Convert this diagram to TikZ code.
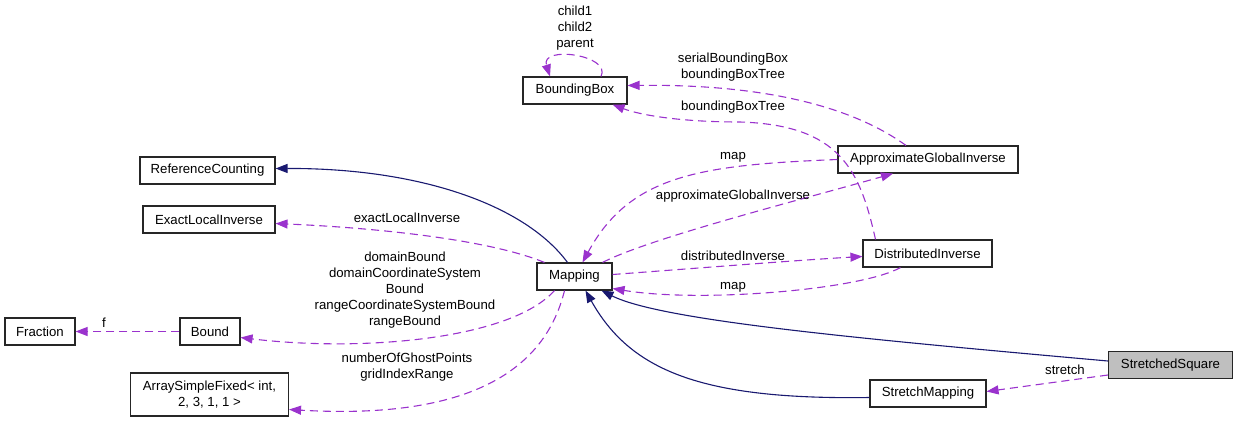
\documentclass[tikz,border=0pt]{standalone}
\usepackage{fontspec}
\setmainfont{Liberation Sans}
\usepackage{xcolor}
\usetikzlibrary{arrows.meta}

\definecolor{inhblue}{HTML}{191970}
\definecolor{useorchid}{HTML}{9A32CD}

\begin{document}
\begin{tikzpicture}[x=1pt,y=-1pt,
	cls/.style={draw=black!85, fill=white, line width=1.1pt, minimum height=27pt, inner sep=0pt, align=center, font=\fontsize{13.2}{16}\selectfont},
	inh/.style={color=inhblue, line width=1.1pt, -{Triangle[length=12pt,width=9pt]}},
	use/.style={color=useorchid, line width=1.1pt, dash pattern=on 8pt off 5pt, -{Triangle[length=12pt,width=9pt]}},
	lbl/.style={inner sep=0pt, align=center, font=\fontsize{13.2}{16}\selectfont}]

\useasboundingbox (0,0) rectangle (1237,421);

% classes
\node[cls, minimum width=104pt] (BoundingBox) at (575,90.5) {BoundingBox};
\node[cls, minimum width=180pt] (ApproxInverse) at (928,159.5) {ApproximateGlobalInverse};
\node[cls, minimum width=135pt] (RefCounting) at (207.5,170.5) {ReferenceCounting};
\node[cls, minimum width=132pt] (ExactInverse) at (209,219.5) {ExactLocalInverse};
\node[cls, minimum width=75pt] (Mapping) at (574.5,276.5) {Mapping};
\node[cls, minimum width=129pt] (DistInverse) at (927.5,253.5) {DistributedInverse};
\node[cls, minimum width=70pt] (Fraction) at (40,331.5) {Fraction};
\node[cls, minimum width=60pt] (Bound) at (210,331.5) {Bound};
\node[cls, minimum width=158pt, minimum height=43pt] (ArrayFixed) at (209.5,394.5) {ArraySimpleFixed\textless{} int,\\ 2, 3, 1, 1 \textgreater{}};
\node[cls, minimum width=124pt, fill=black!25] (Stretched) at (1170.5,365) {StretchedSquare};
\node[cls, minimum width=116pt] (StretchMap) at (928,393.5) {StretchMapping};

% inheritance
\draw[inh] ([xshift=-7pt]Mapping.north) .. controls (525,205) and (420,168) .. ([yshift=2pt]RefCounting.east);
\draw[inh] ([yshift=4pt]Stretched.west) .. controls (850,338) and (660,320) .. ([xshift=27pt]Mapping.south);
\draw[inh] ([yshift=-4pt]StretchMap.west) .. controls (700,400) and (630,370) .. ([xshift=11pt]Mapping.south);

% usage
\draw[use] ([xshift=-30pt]Mapping.north) .. controls (490,240) and (380,228) .. ([yshift=-4pt]ExactInverse.east);
\draw[use] ([xshift=-20pt]Mapping.south) .. controls (510,340) and (360,352) .. ([yshift=-6pt]Bound.east);
\draw[use] (Bound.west) -- (Fraction.east);
\draw[use] ([xshift=-10pt]Mapping.south) .. controls (545,370) and (470,420) .. ([yshift=-15pt]ArrayFixed.east);
\draw[use] ([xshift=26pt]BoundingBox.north) .. controls (612,55) and (540,45) .. ([xshift=-25pt]BoundingBox.north);
\draw[use] ([xshift=-22pt]ApproxInverse.north) .. controls (850,105) and (760,84) .. ([yshift=5pt]BoundingBox.east);
\draw[use] ([xshift=-52pt]DistInverse.north) .. controls (860,170) and (840,125) .. (740,122) .. controls (680,122) and (640,115) .. ([xshift=-15pt]BoundingBox.south east);
\draw[use] (ApproxInverse.west) .. controls (700,165) and (630,175) .. ([xshift=8pt]Mapping.north);
\draw[use] ([xshift=28pt]Mapping.north) .. controls (650,238) and (800,200) .. ([xshift=-35pt]ApproxInverse.south);
\draw[use] ([yshift=2pt]Mapping.east) .. controls (700,268) and (800,260) .. ([yshift=-3pt]DistInverse.west);
\draw[use] ([xshift=-27pt]DistInverse.south) .. controls (860,290) and (700,303) .. ([yshift=-12pt]Mapping.east);
\draw[use] ([yshift=-10pt]Stretched.west) -- ([yshift=2pt]StretchMap.east);

% labels
\node[lbl] (lChild) at (575,28.5) {child1\\child2\\parent};
\node[lbl] (lSerial) at (733,67) {serialBoundingBox\\boundingBoxTree};
\node[lbl] (lTree) at (733,107) {boundingBoxTree};
\node[lbl] (lMapA) at (733,157) {map};
\node[lbl] (lApprox) at (733,196) {approximateGlobalInverse};
\node[lbl] (lExact) at (407,218) {exactLocalInverse};
\node[lbl] (lDist) at (733,256) {distributedInverse};
\node[lbl] (lMapD) at (733,287) {map};
\node[lbl] (lBound) at (405,290) {domainBound\\domainCoordinateSystem\\Bound\\rangeCoordinateSystemBound\\rangeBound};
\node[lbl] (lF) at (104,323) {f};
\node[lbl] (lGhost) at (407,367) {numberOfGhostPoints\\gridIndexRange};
\node[lbl] (lStretch) at (1065,370) {stretch};

\end{tikzpicture}
\end{document}
